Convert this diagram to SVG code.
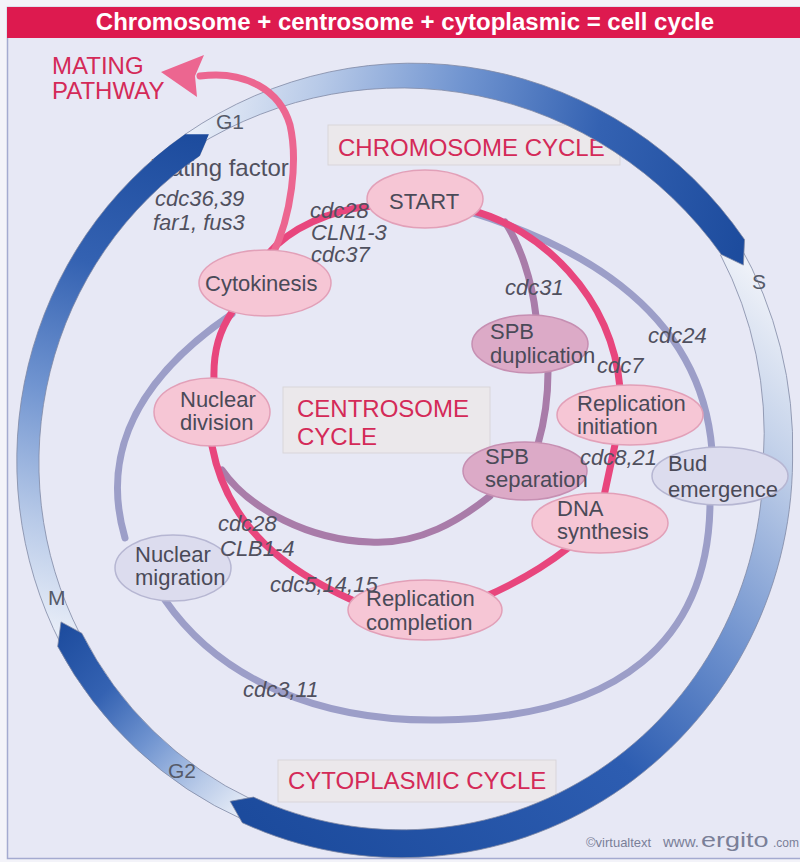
<svg xmlns="http://www.w3.org/2000/svg" width="800" height="862" viewBox="0 0 800 862">
  <defs>
    <linearGradient id="ringStops">
      <stop offset="0" stop-color="#e9eef8"/>
      <stop offset="0.2" stop-color="#b8cae8"/>
      <stop offset="0.45" stop-color="#7094d0"/>
      <stop offset="0.7" stop-color="#3462b2"/>
      <stop offset="1" stop-color="#1c4b9d"/>
    </linearGradient>
    <linearGradient id="gG1S" href="#ringStops" gradientUnits="userSpaceOnUse" x1="-215.3" y1="-319.2" x2="351.6" y2="-194.9"/>
    <linearGradient id="gSG2" gradientUnits="userSpaceOnUse" x1="337.5" y1="-210.9" x2="-173.9" y2="341.3">
      <stop offset="0" stop-color="#eef1f8"/>
      <stop offset="0.15" stop-color="#c4d2ea"/>
      <stop offset="0.4" stop-color="#6a8ecc"/>
      <stop offset="0.6" stop-color="#2d5db1"/>
      <stop offset="1" stop-color="#1c4b9d"/>
    </linearGradient>
    <linearGradient id="gG2M" href="#ringStops" gradientUnits="userSpaceOnUse" x1="-155.8" y1="349.9" x2="-347.1" y2="161.9"/>
    <linearGradient id="gMG1" href="#ringStops" gradientUnits="userSpaceOnUse" x1="-337.3" y1="179.3" x2="-195.7" y2="-325.7"/>
  </defs>
  <style>
    text { font-family: "Liberation Sans", Arial, sans-serif; }
    .title { font-size: 24px; font-weight: bold; fill: #ffffff; }
    .cycle { font-size: 24px; fill: #d42a58; }
    .box { fill: #ebe8eb; stroke: #d9d5da; stroke-width: 1; }
    .ring path { stroke: #7f88a4; stroke-width: 0.8; }
    .ring path.head { stroke: none; }
    .phase { font-size: 21px; fill: #555a68; }
    .conn path { fill: none; stroke-width: 7; stroke-linecap: round; }
    .chromo { stroke: #e8467d; }
    .mating { stroke: #ec6690; }
    .centro { stroke: #a97ca9; }
    .cyto { stroke: #9c9ec8; }
    .node text { font-size: 22px; fill: #4a4a58; }
    .pink ellipse { fill: #f6c6d5; stroke: #e2a0b8; stroke-width: 1.5; }
    .mauve ellipse { fill: #dcaac7; stroke: #c68fb2; stroke-width: 1.5; }
    .grey ellipse { fill: #dcdcee; stroke: #b6b6d2; stroke-width: 1.5; }
    .gene { font-size: 22px; font-style: italic; fill: #50505e; }
    .plain { font-size: 24px; fill: #50505e; }
    .credit { fill: #7a7f98; }
  </style>

  <!-- page and title band -->
  <rect x="0" y="0" width="800" height="862" fill="#f3f3f9"/>
  <rect x="7.5" y="7.5" width="800" height="851" fill="#e7e8f5" stroke="#a4aad0" stroke-width="1.5"/>
  <rect x="7" y="7" width="793" height="31" fill="#dd1a4f"/>
  <text class="title" x="405" y="30" text-anchor="middle">Chromosome + centrosome + cytoplasmic = cell cycle</text>

  <!-- cycle name boxes -->
  <g id="label-chromosome">
    <rect class="box" x="328" y="125" width="292" height="40"/>
    <text class="cycle" x="338" y="156">CHROMOSOME CYCLE</text>
  </g>
  <g id="label-centrosome">
    <rect class="box" x="283" y="387" width="207" height="66"/>
    <text class="cycle" x="297" y="417">CENTROSOME</text>
    <text class="cycle" x="297" y="445">CYCLE</text>
  </g>
  <g id="label-cytoplasmic">
    <rect class="box" x="278" y="760" width="278" height="42"/>
    <text class="cycle" x="288" y="789">CYTOPLASMIC CYCLE</text>
  </g>

  <text class="plain" x="150" y="176">Mating factor</text>

  <!-- outer phase ring: four tapered arrows about the ring centre; each arrow is
       drawn before the one that precedes it so its light tail sits under the
       previous arrowhead -->
  <g id="phase-ring" class="ring" transform="translate(400,460) scale(0.9766,1)">
    <path id="arc-M-G1" fill="url(#gMG1)" d="M-347.0,184.5 A395,395 0 0 1 -219.8,-325.8 L-195.7,-325.7 L-205.2,-304.2 A369,369 0 0 0 -327.6,174.2 Z"/>
    <path id="arc-G2-M" fill="url(#gG2M)" d="M-160.2,359.9 A396,396 0 0 1 -350.5,186.4 L-347.1,161.9 L-325.8,173.2 A370,370 0 0 0 -151.3,339.8 Z"/>
    <path id="arc-S-G2" fill="url(#gSG2)" d="M346.8,-216.7 A405,405 0 0 1 402,0 A400,400 0 0 1 -161.5,362.7 L-173.9,341.3 L-150.1,337.1 A370,370 0 0 0 372,0 A380,380 0 0 0 328.2,-205.1 Z"/>
    <path id="arc-G1-S" fill="url(#gG1S)" d="M-219.8,-325.8 A416,416 0 0 1 352.8,-220.4 L351.6,-194.9 L329.0,-205.6 A406.5,406.5 0 0 0 -210.8,-312.5 Z"/>
    <path id="arc-M-G1-head" class="head" fill="url(#gMG1)" d="M-252.6,-301.0 A395,395 0 0 1 -219.8,-325.8 L-195.7,-325.7 L-205.2,-304.2 A369,369 0 0 0 -236.6,-281.9 Z"/>
  </g>
  <text class="phase" x="216" y="129">G1</text>
  <text class="phase" x="752" y="289">S</text>
  <text class="phase" x="168" y="778">G2</text>
  <text class="phase" x="48" y="605">M</text>

  <!-- connectors -->
  <g id="connectors" class="conn">
    <path class="cyto" d="M470,212 C560,240 700,300 712,450"/>
    <path class="cyto" d="M710,505 C708,640 620,718 440,720 C320,722 220,680 165,600"/>
    <path class="cyto" d="M125,538 C105,470 120,390 232,314"/>
    <path class="centro" d="M505,222 C520,245 532,280 536,316"/>
    <path class="centro" d="M548,372 C548,400 545,420 538,444"/>
    <path class="centro" d="M490,496 C460,520 420,545 370,542 C310,540 250,510 222,470"/>
    <path class="chromo" d="M470,210 C540,228 612,295 620,388 M616,440 L604,496 M568,548 C540,570 510,586 482,598 M352,600 C290,572 228,530 212,446 M214,380 C213,350 220,330 232,312 M268,254 C290,228 330,210 372,206"/>
    <path class="mating" d="M272,256 C292,215 298,160 290,125 C280,90 245,70 200,76"/>
    <polygon fill="#ec6690" points="161,72 204,55 195,76 197,97"/>
  </g>

  <!-- chromosome cycle events -->
  <g id="start" class="node pink">
    <ellipse cx="425" cy="199" rx="58" ry="29"/>
    <text x="389" y="209">START</text>
  </g>
  <g id="cytokinesis" class="node pink">
    <ellipse cx="265" cy="283" rx="66" ry="33"/>
    <text x="205" y="291">Cytokinesis</text>
  </g>
  <g id="replication-initiation" class="node pink">
    <ellipse cx="630" cy="415" rx="73" ry="30"/>
    <text x="577" y="411">Replication</text>
    <text x="577" y="434">initiation</text>
  </g>
  <g id="dna-synthesis" class="node pink">
    <ellipse cx="600" cy="523" rx="68" ry="30"/>
    <text x="557" y="516">DNA</text>
    <text x="557" y="539">synthesis</text>
  </g>
  <g id="replication-completion" class="node pink">
    <ellipse cx="425" cy="610" rx="77" ry="30"/>
    <text x="366" y="606">Replication</text>
    <text x="366" y="630">completion</text>
  </g>
  <g id="nuclear-division" class="node pink">
    <ellipse cx="212" cy="412" rx="58" ry="34"/>
    <text x="180" y="407">Nuclear</text>
    <text x="180" y="430">division</text>
  </g>

  <!-- centrosome cycle events -->
  <g id="spb-duplication" class="node mauve">
    <ellipse cx="530" cy="344" rx="58" ry="29"/>
    <text x="490" y="339">SPB</text>
    <text x="490" y="363">duplication</text>
  </g>
  <g id="spb-separation" class="node mauve">
    <ellipse cx="525" cy="471" rx="62" ry="29"/>
    <text x="485" y="464">SPB</text>
    <text x="485" y="487">separation</text>
  </g>

  <!-- cytoplasmic cycle events -->
  <g id="bud-emergence" class="node grey">
    <ellipse cx="720" cy="476" rx="68" ry="29"/>
    <text x="668" y="471">Bud</text>
    <text x="668" y="497">emergence</text>
  </g>
  <g id="nuclear-migration" class="node grey">
    <ellipse cx="173" cy="568" rx="58" ry="33"/>
    <text x="135" y="562">Nuclear</text>
    <text x="135" y="585">migration</text>
  </g>

  <!-- gene names -->
  <g id="genes">
    <text class="gene" x="155" y="206">cdc36,39</text>
    <text class="gene" x="153" y="230">far1, fus3</text>
    <text class="gene" x="310" y="218">cdc28</text>
    <text class="gene" x="311" y="240">CLN1-3</text>
    <text class="gene" x="311" y="262">cdc37</text>
    <text class="gene" x="505" y="295">cdc31</text>
    <text class="gene" x="648" y="343">cdc24</text>
    <text class="gene" x="597" y="373">cdc7</text>
    <text class="gene" x="580" y="465">cdc8,21</text>
    <text class="gene" x="218" y="531">cdc28</text>
    <text class="gene" x="220" y="556">CLB1-4</text>
    <text class="gene" x="270" y="592">cdc5,14,15</text>
    <text class="gene" x="243" y="697">cdc3,11</text>
  </g>

  <!-- mating pathway exit -->
  <text class="cycle" x="52" y="74" font-size="22">MATING</text>
  <text class="cycle" x="52" y="99" font-size="22">PATHWAY</text>

  <!-- credit line -->
  <text class="credit" x="586" y="847" font-size="13">©virtualtext</text>
  <text class="credit" x="663" y="847" font-size="15">www.</text>
  <text class="credit" font-size="20" transform="translate(701,847) scale(1.35,1)">ergito</text>
  <text class="credit" x="773" y="847" font-size="12">.com</text>
</svg>
